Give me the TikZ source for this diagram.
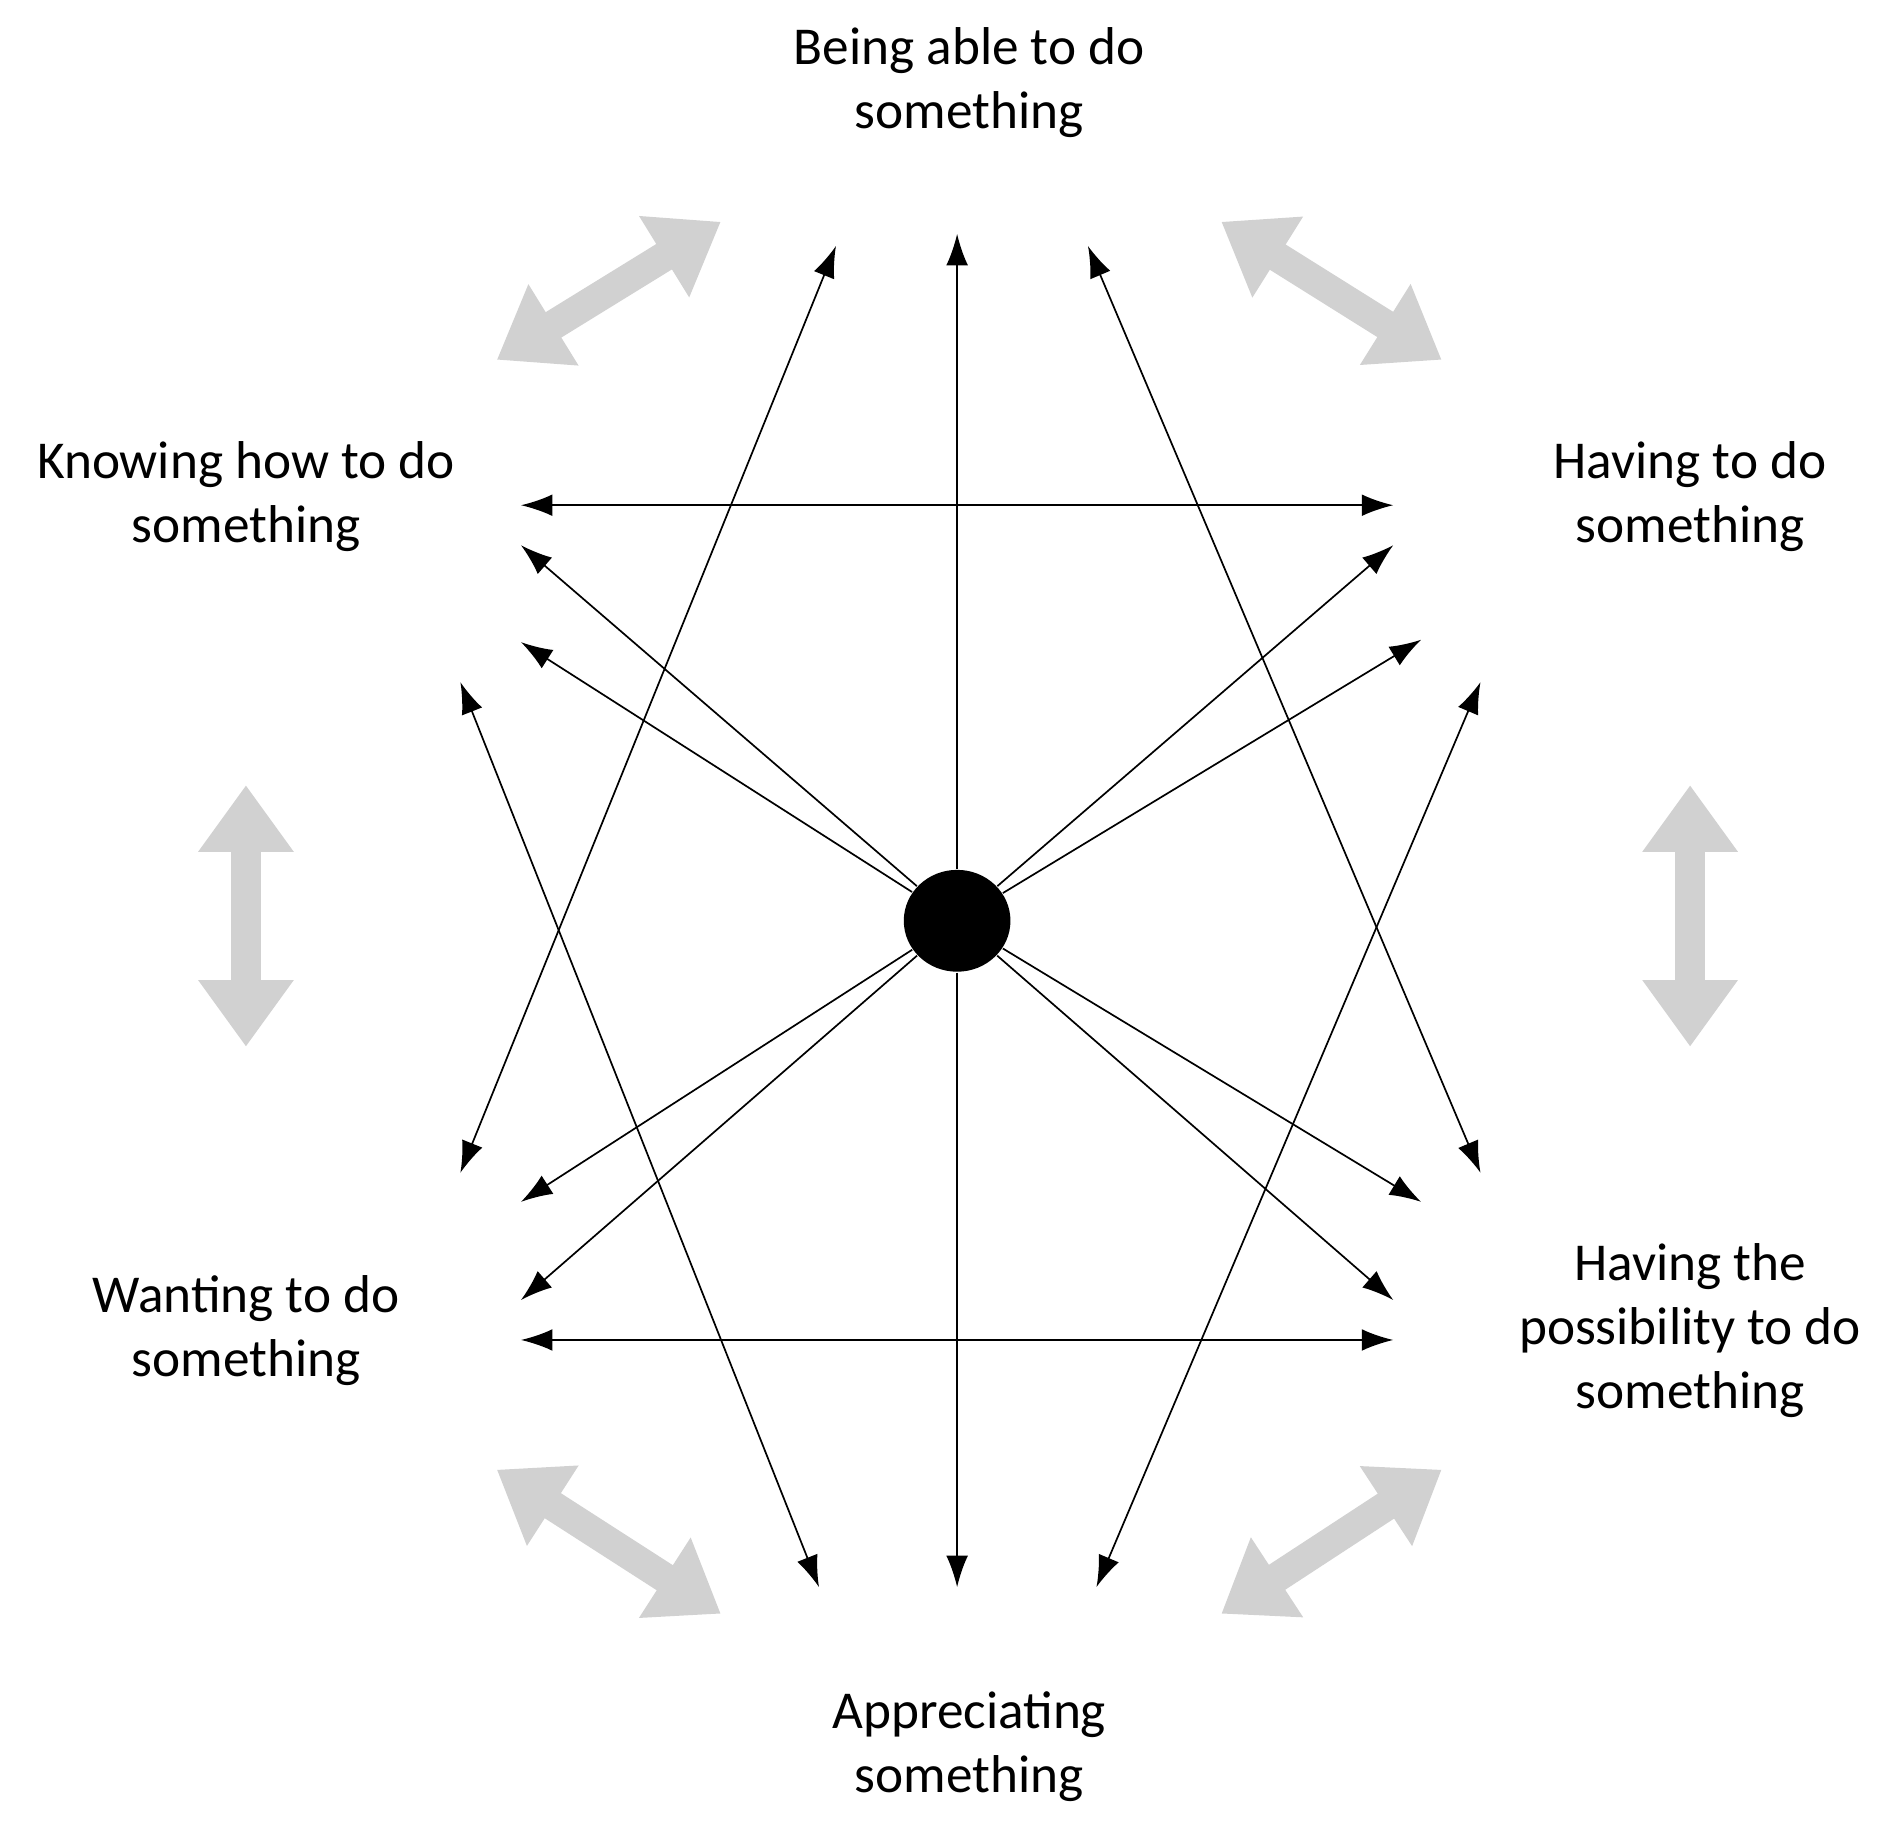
\documentclass[tikz,border=0pt]{standalone}
\usepackage{fontspec}
\setmainfont{Carlito}
\usetikzlibrary{arrows.meta, positioning, shapes.geometric}
\begin{document}
\begin{tikzpicture}[x=0.01cm,y=-0.01cm]
		\tikzstyle{Label} = [align=center, font=\fontsize{12.5}{15}\selectfont]
		\tikzstyle{arrow} = [-{Latex[length=2.6mm,width=1.8mm]}]
		\tikzstyle{both} = [{Latex[length=2.6mm,width=1.8mm]}-{Latex[length=2.6mm,width=1.8mm]}]
		\tikzstyle{gray} = [line width=7pt, draw=black!18, {Triangle[length=0.55cm,width=0.75cm]}-{Triangle[length=0.55cm,width=0.75cm]}]
		\useasboundingbox (0,0) rectangle (1560,1520);
		
		\node (able) [Label] at (800,68) {Being able to do\\something};
		\node (know) [Label] at (203,410) {Knowing how to do\\something};
		\node (have) [Label] at (1395,410) {Having to do\\something};
		\node (want) [Label] at (203,1098) {Wanting to do\\something};
		\node (poss) [Label] at (1395,1098) {Having the\\possibility to do\\something};
		\node (appr) [Label] at (800,1442) {Appreciating\\something};
		
		\node (c) [ellipse, fill=black, minimum width=0.88cm, minimum height=0.84cm, inner sep=0pt] at (790,760) {};
		
		\coordinate (t) at (790,193);
		\coordinate (b) at (790,1310);
		\coordinate (ul1) at (430,450);
		\coordinate (ul2) at (430,530);
		\coordinate (ur1) at (1150,450);
		\coordinate (ur2) at (1173,528);
		\coordinate (dl1) at (430,992);
		\coordinate (dl2) at (430,1073);
		\coordinate (dr1) at (1173,992);
		\coordinate (dr2) at (1150,1073);
		\foreach \p in {t,b,ul1,ul2,ur1,ur2,dl1,dl2,dr1,dr2}
			\draw [arrow] (c) -- (\p);
		
		\coordinate (hl1) at (430,417);
		\coordinate (hr1) at (1150,417);
		\coordinate (hl2) at (430,1106);
		\coordinate (hr2) at (1150,1106);
		\draw [both] (hl1) -- (hr1);
		\draw [both] (hl2) -- (hr2);
		
		\coordinate (la) at (690,203);
		\coordinate (lb) at (380,968);
		\coordinate (ra) at (898,203);
		\coordinate (rb) at (1222,968);
		\coordinate (lc) at (380,563);
		\coordinate (ld) at (676,1310);
		\coordinate (rc) at (1222,563);
		\coordinate (rd) at (905,1310);
		\draw [both] (la) -- (lb);
		\draw [both] (ra) -- (rb);
		\draw [both] (lc) -- (ld);
		\draw [both] (rc) -- (rd);
		
		\draw [gray] (410,297) -- (595,183);
		\draw [gray] (1008,183) -- (1190,297);
		\draw [gray] (203,648) -- (203,864);
		\draw [gray] (1395,648) -- (1395,864);
		\draw [gray] (410,1213) -- (595,1332);
		\draw [gray] (1008,1332) -- (1190,1213);
\end{tikzpicture}
\end{document}
